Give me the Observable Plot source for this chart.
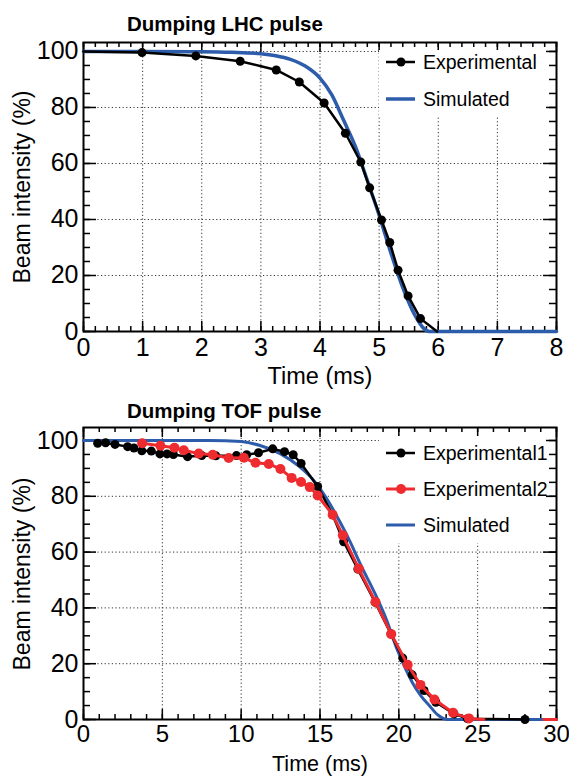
<!DOCTYPE html>
<html>
<head>
<meta charset="utf-8">
<script src="https://cdn.jsdelivr.net/npm/d3@7"></script>
<script src="https://cdn.jsdelivr.net/npm/@observablehq/plot@0.6"></script>
<style>
  html, body { margin: 0; padding: 0; background: white; }
  #root { position: relative; width: 569px; height: 776px; overflow: hidden; background: white; font-family: "Liberation Sans", Arial, Helvetica, sans-serif; }
  #root svg { overflow: visible; }
  .abs { position: absolute; left: 0; }
</style>
</head>
<body>
<div id="root"></div>
<script>
// ---------- Data: top panel (Dumping LHC pulse) ----------
const lhcExpT = [0, 0.99, 1.9, 2.65, 3.26, 3.65, 4.07, 4.43, 4.69, 4.84, 5.04, 5.18, 5.32, 5.49, 5.70, 5.98];
const lhcExpV = [100, 99.6, 98.4, 96.5, 93.4, 89.1, 81.6, 70.8, 60.5, 51.3, 39.8, 31.8, 21.9, 12.7, 4.6, 0];
const lhcExpMarker = [false, true, true, true, true, true, true, true, true, true, true, true, true, true, true, false];
const lhcSimT = [0, 1, 2, 2.5, 3, 3.25, 3.5, 3.75, 4, 4.2, 4.4, 4.6, 4.8, 5, 5.2, 5.4, 5.6, 5.75, 5.85, 6, 8];
const lhcSimV = [100, 100, 99.9, 99.7, 99.2, 98.5, 97.2, 94.8, 90.5, 84.5, 75.4, 66, 54, 41.5, 28, 15.7, 6, 1.2, 0, 0, 0];

// ---------- Data: bottom panel (Dumping TOF pulse) ----------
const tofExp1T = [0.9, 1.4, 2.0, 2.8, 3.2, 3.7, 4.3, 4.85, 5.3, 5.7, 6.6, 7.5, 8.4, 9.7, 10.35, 11.1, 12.0, 12.75, 13.3, 13.8, 14.85, 15.8, 16.5, 17.4, 18.5, 19.5, 20.25, 20.85, 21.6, 22.35, 23.5, 24.35, 28.0];
const tofExp1V = [99.0, 99.2, 98.6, 97.8, 97.3, 96.3, 96.2, 95.2, 95.2, 95.0, 94.2, 94.6, 94.5, 94.6, 94.9, 95.6, 97.0, 96.0, 94.9, 91.8, 83.5, 73.4, 63.7, 53.9, 42.0, 30.7, 22.0, 16.0, 10.4, 6.2, 2.0, 0.3, 0];
const tofExp2T = [3.72, 4.88, 5.77, 6.36, 7.31, 8.20, 9.21, 10.17, 10.91, 11.75, 12.49, 13.2, 13.8, 14.35, 14.85, 15.8, 16.45, 17.46, 18.52, 19.52, 20.56, 21.37, 22.26, 23.44, 24.45];
const tofExp2V = [99.0, 98.1, 97.4, 96.5, 95.3, 94.9, 93.7, 93.8, 92.0, 91.6, 89.8, 86.6, 85.1, 83.3, 80.3, 73.4, 66.0, 54.0, 42.1, 30.6, 19.6, 12.4, 7.2, 2.4, 0.4];
// line-only tail pieces of Experimental2 along zero
const tofExp2TailT = [24.45, 25.4, 29.2, 30];
const tofExp2TailV = [0.4, 0, 0, 0];
const tofExp2TailSeg = [1, 1, 2, 2];
const tofSimT = [0, 8, 10, 11.2, 12.5, 13.7, 14.7, 15.5, 16.2, 16.8, 17.6, 18.5, 19.2, 19.9, 20.4, 20.9, 21.4, 21.9, 22.5, 23.1, 30];
const tofSimV = [100, 100, 99.6, 98.2, 95.2, 90.6, 85, 78.5, 71.5, 65, 55.2, 45, 36, 25, 18.5, 12.8, 8.5, 5.2, 1.5, 0, 0];

// ---------- Tick labels ----------
const yTickVals = [0, 20, 40, 60, 80, 100];
const xTickTop = [0, 1, 2, 3, 4, 5, 6, 7, 8];
const xTickBottom = [0, 5, 10, 15, 20, 25, 30];

const FONT = '"Liberation Sans", Arial, Helvetica, sans-serif';
const BLACK = "#000000", RED = "#ee2b2f", BLUE = "#2d5cab";

const zip = (T, V, extra) => T.map((t, i) => ({t, v: V[i], ...(extra ? extra(i) : {})}));

function panel({height, marginBottom, xDomain, yMax, xTicks, xMinorStep, xGridVals, xPad, series}) {
  const marginTop = 42, marginLeft = 83, marginRight = 13;
  const FW = 569 - marginLeft - marginRight;
  const FH = height - marginTop - marginBottom;
  const xMinor = d3.range(xDomain[0], xDomain[1] + 1e-9, xMinorStep);
  const yMinor = d3.range(0, 101, 5);
  const tickStyle = {stroke: "black", strokeWidth: 1.5};
  const gridStyle = {stroke: "#333", strokeWidth: 1, strokeDasharray: "1.2,2.4"};
  return Plot.plot({
    width: 569, height, marginTop, marginLeft, marginRight, marginBottom,
    style: {fontFamily: FONT, fontSize: "25px", color: "black", background: "transparent", overflow: "visible"},
    x: {domain: xDomain, ticks: xTicks, tickSize: 0, tickPadding: xPad, label: null, tickFormat: d => String(d)},
    y: {domain: [0, yMax], ticks: yTickVals, tickSize: 0, tickPadding: 5, label: null, tickFormat: d => String(d)},
    marks: [
      Plot.ruleX(xGridVals, {x: d => d, ...gridStyle}),
      Plot.ruleY([20, 40, 60, 80, 100], {y: d => d, ...gridStyle}),
      // minor ticks (inward, all four sides)
      Plot.tickX(xMinor, {x: d => d, insetTop: FH - 5, ...tickStyle}),
      Plot.tickX(xMinor, {x: d => d, insetBottom: FH - 5, ...tickStyle}),
      Plot.tickY(yMinor, {y: d => d, insetRight: FW - 7, ...tickStyle}),
      Plot.tickY(yMinor, {y: d => d, insetLeft: FW - 7, ...tickStyle}),
      // major ticks
      Plot.tickX(xTicks, {x: d => d, insetTop: FH - 10, ...tickStyle}),
      Plot.tickX(xTicks, {x: d => d, insetBottom: FH - 10, ...tickStyle}),
      Plot.tickY(yTickVals, {y: d => d, insetRight: FW - 13, ...tickStyle}),
      Plot.tickY(yTickVals, {y: d => d, insetLeft: FW - 13, ...tickStyle}),
      Plot.frame({stroke: "black", strokeWidth: 2}),
      ...series
    ]
  });
}

const root = document.getElementById("root");

// ----- top panel -----
const lhcExp = zip(lhcExpT, lhcExpV, i => ({m: lhcExpMarker[i]}));
const lhcSim = zip(lhcSimT, lhcSimV);
const topChart = panel({
  height: 390, marginBottom: 59, xDomain: [0, 8], yMax: 103.2, xPad: 7,
  xTicks: xTickTop, xMinorStep: 0.2, xGridVals: [1, 2, 3, 4, 5, 6, 7],
  series: [
    Plot.line(lhcSim, {x: "t", y: "v", stroke: BLUE, strokeWidth: 3.5, curve: "monotone-x"}),
    Plot.line(lhcExp, {x: "t", y: "v", stroke: BLACK, strokeWidth: 2.5}),
    Plot.dot(lhcExp.filter(d => d.m), {x: "t", y: "v", r: 4.5, fill: BLACK, stroke: "none"})
  ]
});
topChart.classList.add("abs"); topChart.style.top = "0px";
root.appendChild(topChart);

// ----- bottom panel -----
const B = 385; // vertical offset of the bottom panel
const tofExp1 = zip(tofExp1T, tofExp1V);
const tofExp2 = zip(tofExp2T, tofExp2V);
const tofExp2Tail = zip(tofExp2TailT, tofExp2TailV, i => ({s: tofExp2TailSeg[i]}));
const tofSim = zip(tofSimT, tofSimV);
const bottomChart = panel({
  height: 386, marginBottom: 52, xDomain: [0, 30], yMax: 104.66, xPad: 5,
  xTicks: xTickBottom, xMinorStep: 1, xGridVals: [5, 10, 15, 20, 25],
  series: [
    Plot.line(tofSim, {x: "t", y: "v", stroke: BLUE, strokeWidth: 3, curve: "monotone-x"}),
    Plot.line(tofExp1, {x: "t", y: "v", stroke: BLACK, strokeWidth: 2.5}),
    Plot.dot(tofExp1, {x: "t", y: "v", r: 4.5, fill: BLACK, stroke: "none"}),
    Plot.line(tofExp2Tail, {x: "t", y: "v", z: "s", stroke: RED, strokeWidth: 3}),
    Plot.line(tofExp2, {x: "t", y: "v", stroke: RED, strokeWidth: 3}),
    Plot.dot(tofExp2, {x: "t", y: "v", r: 5, fill: RED, stroke: "none"})
  ]
});
bottomChart.classList.add("abs"); bottomChart.style.top = B + "px";
// slightly smaller x tick labels in the bottom panel so they clear the axis title
d3.select(bottomChart).selectAll('[aria-label="x-axis tick label"], [aria-label="x-axis"] text').attr("font-size", 24);
root.appendChild(bottomChart);

// ----- annotations: titles, axis titles, legends -----
const ov = d3.select(root).append("svg")
  .attr("class", "abs").style("top", "0px")
  .attr("width", 569).attr("height", 776)
  .style("pointer-events", "none")
  .attr("font-family", FONT);

function titles(offsetY, titleText, timeBaseline, timeSize) {
  ov.append("text").attr("x", 127).attr("y", offsetY + 31)
    .attr("font-size", 20.5).attr("font-weight", "bold").text(titleText);
  ov.append("text").attr("x", 320).attr("y", timeBaseline)
    .attr("font-size", timeSize).attr("text-anchor", "middle").text("Time (ms)");
  ov.append("text").attr("transform", `translate(30,${offsetY + 187}) rotate(-90)`)
    .attr("font-size", 23).attr("text-anchor", "middle").text("Beam intensity (%)");
}
titles(0, "Dumping LHC pulse", 384, 23.5);
titles(B + 2, "Dumping TOF pulse", 771, 21.5);

function legend(x, y, w, h, items) {
  ov.append("rect").attr("x", x).attr("y", y).attr("width", w).attr("height", h).attr("fill", "white");
  for (const it of items) {
    ov.append("line").attr("x1", 386).attr("x2", 415).attr("y1", it.y).attr("y2", it.y)
      .attr("stroke", it.color).attr("stroke-width", it.w);
    if (it.dot) ov.append("circle").attr("cx", 401).attr("cy", it.y).attr("r", it.r).attr("fill", it.color);
    ov.append("text").attr("x", 423).attr("y", it.y + 7).attr("font-size", 19.5).text(it.label);
  }
}
legend(379, 50, 167, 66, [
  {label: "Experimental", color: BLACK, w: 2.5, dot: true, r: 4.5, y: 62},
  {label: "Simulated", color: BLUE, w: 3.5, dot: false, y: 99}
]);
legend(379, B + 51, 167, 107, [
  {label: "Experimental1", color: BLACK, w: 2.5, dot: true, r: 4.5, y: B + 68},
  {label: "Experimental2", color: RED, w: 3, dot: true, r: 5, y: B + 104},
  {label: "Simulated", color: BLUE, w: 3, dot: false, y: B + 140}
]);
</script>
</body>
</html>
